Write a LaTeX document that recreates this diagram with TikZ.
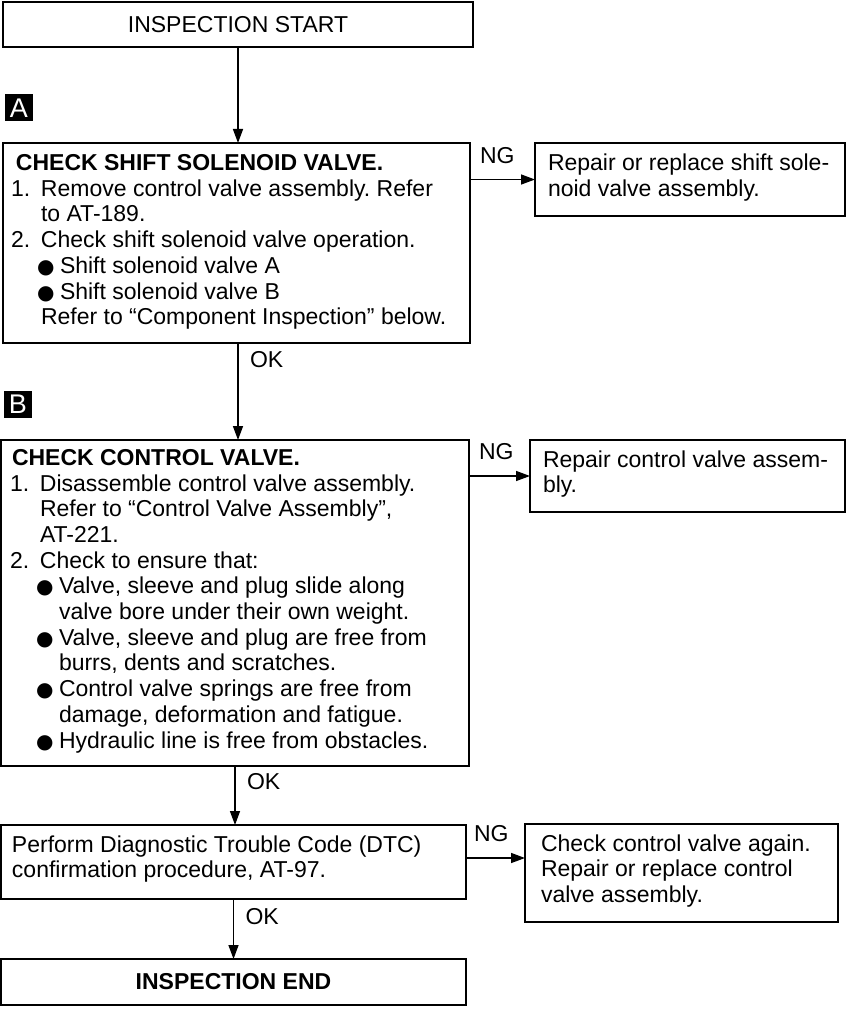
\documentclass[tikz,border=0pt]{standalone}
\usepackage{fontspec}
\setmainfont{Liberation Sans}
\newfontfamily\dejavu{DejaVu Sans}
\usetikzlibrary{arrows.meta,calc}
\frenchspacing
\newcommand{\bul}{{\dejavu\fontsize{20}{20}\selectfont ●}}
\newcommand{\ind}{\hspace*{30pt}}
\newcommand{\itm}[1]{\makebox[30pt][l]{#1.}}
\newcommand{\bitem}{\hspace*{26pt}\makebox[23pt][l]{\bul}}
\newcommand{\bind}{\hspace*{49pt}}
\begin{document}
\begin{tikzpicture}[x=1pt,y=-1pt,
  every node/.style={inner sep=0pt, outer sep=0pt},
  box/.style={draw, line width=1.8pt, anchor=north west, font={\fontsize{23}{25.7}\selectfont}},
  txt/.style={align=left, anchor=west, font={\fontsize{23}{25.7}\selectfont}},
  lbl/.style={font={\fontsize{23}{25.7}\selectfont}},
  marker/.style={fill=black, text=white, minimum width=28pt, minimum height=27pt, font={\fontsize{27}{27}\selectfont}},
  arr/.style={line width=1.4pt, -{Triangle[length=14pt,width=10pt]}}]
\fill[white] (0,0) rectangle (849,1014);
\useasboundingbox (0,0) rectangle (849,1014);

% start
\node[box, minimum width=470, minimum height=45] (start) at (3,2) {INSPECTION START};

% marker A
\node[marker] (mA) at (19,108) {A};

% box A
\node[box, minimum width=467, minimum height=200] (A) at (3,143) {};
\node[txt] (At) at ($(A.west)+(8,-1)$) {\hspace*{5pt}\textbf{CHECK SHIFT SOLENOID VALVE.}\\
\itm{1}Remove control valve assembly. Refer\\
\ind to AT-189.\\
\itm{2}Check shift solenoid valve operation.\\
\bitem Shift solenoid valve A\\
\bitem Shift solenoid valve B\\
\ind Refer to “Component Inspection” below.};

\node[box, minimum width=310, minimum height=73] (rA) at (535,143) {};
\node[txt] (rAt) at ($(rA.west)+(13,-2)$) {Repair or replace shift sole-\\noid valve assembly.};

% marker B
\node[marker] (mB) at (18,404) {B};

% box B
\node[box, minimum width=468, minimum height=326] (B) at (1,440) {};
\node[txt] (Bt) at ($(B.west)+(9,-2)$) {\hspace*{2pt}\textbf{CHECK CONTROL VALVE.}\\
\itm{1}Disassemble control valve assembly.\\
\ind Refer to “Control Valve Assembly”,\\
\ind AT-221.\\
\itm{2}Check to ensure that:\\
\bitem Valve, sleeve and plug slide along\\
\bind valve bore under their own weight.\\
\bitem Valve, sleeve and plug are free from\\
\bind burrs, dents and scratches.\\
\bitem Control valve springs are free from\\
\bind damage, deformation and fatigue.\\
\bitem Hydraulic line is free from obstacles.};

\node[box, minimum width=315, minimum height=72] (rB) at (530,440) {};
\node[txt] (rBt) at ($(rB.west)+(13,-2)$) {Repair control valve assem-\\bly.};

% DTC box
\node[box, minimum width=465, minimum height=74] (dtc) at (1,825) {};
\node[txt] (dtct) at ($(dtc.west)+(11,-3)$) {Perform Diagnostic Trouble Code (DTC)\\confirmation procedure, AT-97.};

\node[box, minimum width=313, minimum height=98] (rC) at (525,824) {};
\node[txt] (rCt) at ($(rC.west)+(16,-2)$) {Check control valve again.\\Repair or replace control\\valve assembly.};

% end
\node[box, minimum width=465, minimum height=46] (end) at (1,959) {\textbf{INSPECTION END}};

% connectors
\draw[arr] (start.south) -- (start.south |- A.north);
\draw[arr] (start.south |- A.south) -- (start.south |- B.north);
\draw[arr] (B.south) -- (B.south |- dtc.north);
\draw[arr] (dtc.south) -- (dtc.south |- end.north);

\draw[arr] (A.east |- rA.west) -- (rA.west);
\draw[arr] (B.east |- rB.west) -- (rB.west);
\coordinate (dtcng) at ($(dtc.east)+(0,-4)$);
\draw[arr] (dtcng) -- (dtcng -| rC.west);

% labels
\node[lbl, anchor=south west] (ngA) at ($(A.east |- rA.west)+(10,-16)$) {NG};
\node[lbl, anchor=south west] (ngB) at ($(B.east |- rB.west)+(10,-16)$) {NG};
\node[lbl, anchor=south west] (ngC) at ($(dtcng)+(8,-16)$) {NG};
\node[lbl, anchor=north west] (okA) at ($(start.south |- A.south)+(12,8)$) {OK};
\node[lbl, anchor=north west] (okB) at ($(B.south)+(12,7)$) {OK};
\node[lbl, anchor=north west] (okC) at ($(dtc.south)+(12,9)$) {OK};
\end{tikzpicture}
\end{document}
